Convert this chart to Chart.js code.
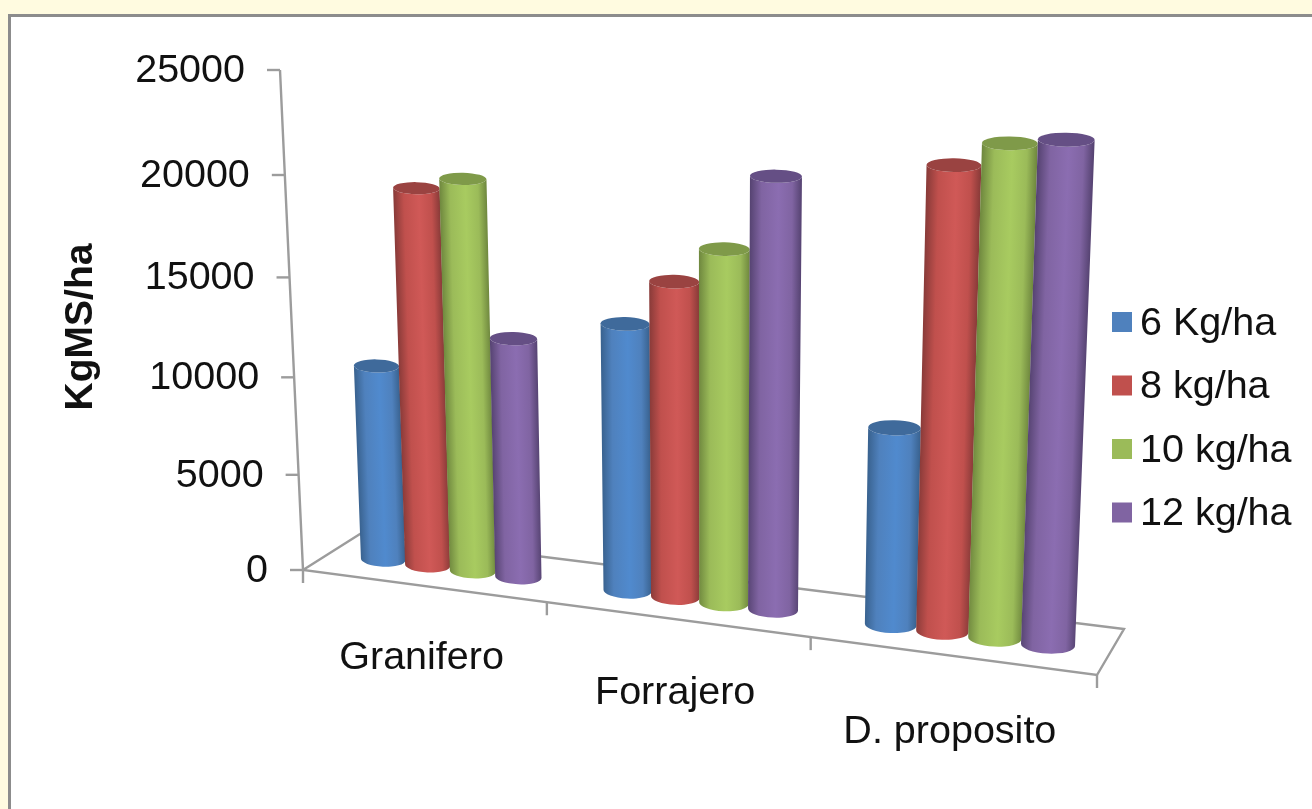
<!DOCTYPE html>
<html>
<head>
<meta charset="utf-8">
<title>KgMS/ha</title>
<script src="https://cdn.jsdelivr.net/npm/chart.js@4/dist/chart.umd.js"></script>
<style>
  html, body { margin: 0; height: 100%; overflow: hidden; background: #fffbe0; }
  #panel { position: absolute; left: 8px; top: 14px; width: 1400px; height: 900px; background: #fff; border: 3px solid #8c8c8c; }
  #chart { position: absolute; left: 0; top: 0; }
</style>
</head>
<body>
<div id="panel"></div>
<canvas id="chart" width="1312" height="809"></canvas>
<script>
const categories = ['Granifero', 'Forrajero', 'D. proposito'];
const seriesNames = ['6 Kg/ha', '8 kg/ha', '10 kg/ha', '12 kg/ha'];
const kg6 = [9900, 13100, 9400];
const kg8 = [18800, 15300, 21500];
const kg10 = [19400, 17000, 22600];
const kg12 = [11900, 20500, 22900];
const yTicks = [0, 5000, 10000, 15000, 20000, 25000];

const baseColors = ['#4f81bd', '#c0504d', '#9bbb59', '#8064a2'];
const lightColors = ['#508ace', '#d05957', '#a8cb60', '#8b6db1'];
const darkColors = ['#39628f', '#8a3b39', '#70893f', '#574473'];
const capColors = ['#3f6a9b', '#9a4341', '#7f9a49', '#654f85'];

const FONT = '"Liberation Sans", Arial, sans-serif';
const TEXT = '#111';
const LINE = '#9c9c9c';

// corners are bottom-left, bottom-right, top-right, top-left
const frontPlane = homography([[303, 570], [1097, 675], [1128, 114], [280, 70]]);
const barPlane = homography([[332, 553], [1111, 653], [1135, 94], [312, 52]]);
const floorBack = [[360, 534], [1124, 629]];

// unit square to quad, (s, t) with t going up
function homography(q) {
  const [p0, p1, p2, p3] = q;
  const sx = p0[0] - p1[0] + p2[0] - p3[0];
  const sy = p0[1] - p1[1] + p2[1] - p3[1];
  const dx1 = p1[0] - p2[0], dx2 = p3[0] - p2[0];
  const dy1 = p1[1] - p2[1], dy2 = p3[1] - p2[1];
  const den = dx1 * dy2 - dx2 * dy1;
  const g = (sx * dy2 - dx2 * sy) / den;
  const h = (dx1 * sy - sx * dy1) / den;
  const a = p1[0] - p0[0] + g * p1[0], b = p3[0] - p0[0] + h * p3[0];
  const d = p1[1] - p0[1] + g * p1[1], e = p3[1] - p0[1] + h * p3[1];
  return (s, t) => {
    const w = g * s + h * t + 1;
    return { x: (a * s + b * t + p0[0]) / w, y: (d * s + e * t + p0[1]) / w };
  };
}

// chart pixels into one of the slanted planes
function project(chart, plane, px, py) {
  const area = chart.chartArea;
  return plane((px - area.left) / area.width, (area.bottom - py) / area.height);
}

function line(ctx, a, b) {
  ctx.beginPath();
  ctx.moveTo(a.x, a.y);
  ctx.lineTo(b.x, b.y);
  ctx.stroke();
}

function drawFrame(chart) {
  const { ctx, chartArea: area, scales } = chart;
  const origin = project(chart, frontPlane, area.left, area.bottom);
  const corner = project(chart, frontPlane, area.right, area.bottom);
  const top = project(chart, frontPlane, area.left, area.top);

  ctx.save();
  ctx.strokeStyle = LINE;
  ctx.lineWidth = 2.4;
  ctx.lineJoin = 'miter';
  ctx.beginPath();
  ctx.moveTo(top.x, top.y);
  ctx.lineTo(origin.x, origin.y);
  ctx.lineTo(corner.x, corner.y);
  ctx.lineTo(floorBack[1][0], floorBack[1][1]);
  ctx.lineTo(floorBack[0][0], floorBack[0][1]);
  ctx.lineTo(origin.x, origin.y);
  ctx.stroke();

  // y ticks and their labels
  ctx.fillStyle = TEXT;
  ctx.font = '39.5px ' + FONT;
  ctx.textAlign = 'right';
  ctx.textBaseline = 'middle';
  yTicks.forEach((v) => {
    const p = project(chart, frontPlane, area.left, scales.y.getPixelForValue(v));
    line(ctx, p, { x: p.x - 13, y: p.y });
    ctx.fillText(String(v), p.x - 35, p.y + 1);
  });

  // category ticks under the front edge
  for (let k = 0; k <= categories.length; k++) {
    const p = project(chart, frontPlane, scales.x.getPixelForValue(k - 0.5), area.bottom);
    line(ctx, p, { x: p.x, y: p.y + 13 });
  }

  ctx.textAlign = 'center';
  categories.forEach((name, i) => {
    const p = project(chart, frontPlane, scales.x.getPixelForValue(i), area.bottom);
    ctx.fillText(name, p.x - 1, p.y + 72 + i * 2);
  });
  ctx.restore();
}

function drawCylinder(chart, bar, i) {
  const ctx = chart.ctx;
  const half = bar.width / 2;
  const bl = project(chart, barPlane, bar.x - half, bar.base);
  const br = project(chart, barPlane, bar.x + half, bar.base);
  const tl = project(chart, barPlane, bar.x - half, bar.y);
  const tr = project(chart, barPlane, bar.x + half, bar.y);
  const bc = { x: (bl.x + br.x) / 2, y: (bl.y + br.y) / 2 };
  const tc = { x: (tl.x + tr.x) / 2, y: (tl.y + tr.y) / 2 };
  const bRx = Math.hypot(br.x - bl.x, br.y - bl.y) / 2;
  const tRx = Math.hypot(tr.x - tl.x, tr.y - tl.y) / 2;

  // discs sit flatter than the floor edge
  const bRot = Math.atan2(br.y - bl.y, br.x - bl.x) * 0.35;
  const tRot = Math.atan2(tr.y - tl.y, tr.x - tl.x) * 0.25;

  // the view flattens toward the top of the value axis
  const frac = (bar.base - bar.y) / chart.chartArea.height;
  const bRy = bRx * 0.32;
  const tRy = tRx * (0.32 - 0.08 * frac);

  // shading runs across the cylinder, square to its leaning axis
  const ax = tc.x - bc.x, ay = tc.y - bc.y, len = Math.hypot(ax, ay) || 1;
  const nx = -ay / len, ny = ax / len;
  const mx = (bc.x + tc.x) / 2, my = (bc.y + tc.y) / 2;
  const r = (bRx + tRx) / 2;
  const sign = nx < 0 ? -1 : 1;
  const grad = ctx.createLinearGradient(
    mx - sign * nx * r, my - sign * ny * r,
    mx + sign * nx * r, my + sign * ny * r
  );
  grad.addColorStop(0, darkColors[i]);
  grad.addColorStop(0.22, baseColors[i]);
  grad.addColorStop(0.55, lightColors[i]);
  grad.addColorStop(0.82, baseColors[i]);
  grad.addColorStop(1, darkColors[i]);

  ctx.beginPath();
  ctx.ellipse(bc.x, bc.y, bRx, bRy, bRot, Math.PI, 0, true);
  ctx.ellipse(tc.x, tc.y, tRx, tRy, tRot, 0, Math.PI, false);
  ctx.closePath();
  ctx.fillStyle = grad;
  ctx.fill();

  ctx.beginPath();
  ctx.ellipse(tc.x, tc.y, tRx, tRy, tRot, 0, Math.PI * 2);
  ctx.fillStyle = capColors[i];
  ctx.fill();
}

function drawLegend(chart) {
  const ctx = chart.ctx;
  ctx.save();
  ctx.font = '39.5px ' + FONT;
  ctx.textAlign = 'left';
  ctx.textBaseline = 'middle';
  chart.data.datasets.forEach((ds, i) => {
    const y = 322 + i * 63.5;
    ctx.fillStyle = ds.backgroundColor;
    ctx.fillRect(1112, y - 10, 20, 20);
    ctx.fillStyle = TEXT;
    ctx.fillText(ds.label, 1140, y + 2);
  });
  ctx.restore();
}

const cylinders = {
  id: 'cylinders',
  beforeDatasetsDraw(chart) {
    drawFrame(chart);
    chart.data.datasets.forEach((ds, i) => {
      chart.getDatasetMeta(i).data.forEach((bar) => drawCylinder(chart, bar, i));
    });
    drawLegend(chart);
    return false; // flat bars are replaced by the cylinders
  },
};

new Chart(document.getElementById('chart'), {
  type: 'bar',
  data: {
    labels: categories,
    datasets: [kg6, kg8, kg10, kg12].map((values, i) => ({
      label: seriesNames[i],
      data: values,
      backgroundColor: baseColors[i],
    })),
  },
  options: {
    responsive: false,
    animation: false,
    layout: { padding: { left: 54, top: 72, right: 212, bottom: 227 } },
    datasets: { bar: { categoryPercentage: 0.75, barPercentage: 1.0 } },
    plugins: { legend: { display: false }, tooltip: { enabled: false } },
    scales: {
      x: { display: false },
      y: {
        min: 0,
        max: 25000,
        grid: { display: false },
        border: { display: false },
        ticks: { display: false, stepSize: 5000 },
        title: {
          display: true,
          text: 'KgMS/ha',
          color: TEXT,
          font: { family: FONT, size: 39, weight: 'bold' },
        },
      },
    },
  },
  plugins: [cylinders],
});
</script>
</body>
</html>
